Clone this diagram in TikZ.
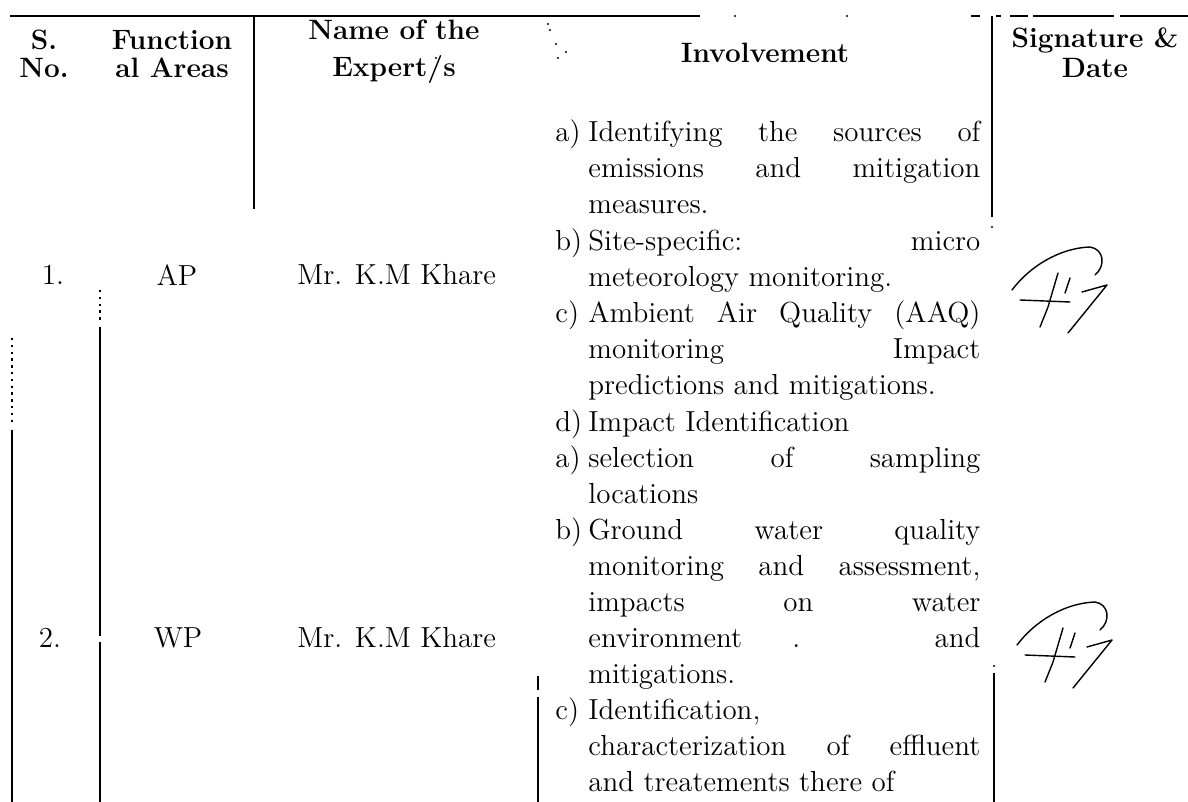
\documentclass[tikz,border=0pt]{standalone}
\usepackage{tikz}
\tikzstyle{rule}=[line width=1pt]
\tikzstyle{dotrule}=[line width=1pt, dash pattern=on 1.2pt off 2.2pt]
\tikzstyle{hd}=[font=\fontsize{14}{17}\selectfont\bfseries, inner sep=0pt]
\tikzstyle{cell}=[font=\fontsize{14.5}{17}\selectfont, inner sep=0pt]
\tikzstyle{txt}=[cell, anchor=base west]
\tikzstyle{sig}=[line width=0.7pt, line cap=round, line join=round]
\tikzstyle{speck}=[circle, fill, inner sep=0pt, minimum size=1.2pt]
\newcommand{\fullw}[1]{\makebox[196pt][s]{#1}}

\begin{document}
\begin{tikzpicture}[x=0.5pt, y=-0.5pt]
    \useasboundingbox (0,0) rectangle (1188,802);

    % table rules
    \draw[rule] (10,16) -- (700,16);
    \draw[rule] (971,16) -- (980,16) (996,16) -- (1001,16) (1010,16) -- (1028,16)
        (1033,16) -- (1114,16) (1120,16) -- (1188,16);
    \draw[rule] (254,16) -- (254,209);
    \draw[rule] (992,16) -- (992,217);
    \draw[dotrule] (12,338) -- (12,426);
    \draw[rule] (12,430) -- (12,802);
    \draw[dotrule] (100,290) -- (100,321);
    \draw[rule] (100,327) -- (100,636) (100,642) -- (100,802);
    \draw[rule] (538,676) -- (538,690) (538,697) -- (538,802);
    \draw[rule] (994,673) -- (994,802);

    % specks of the scan
    \node[speck] (s1) at (735,16) {};
    \node[speck] (s2) at (847,16) {};
    \node[speck] (s3) at (992,227) {};
    \node[speck] (s4) at (994,666) {};
    \node[speck] (s5) at (548,24) {};
    \node[speck] (s6) at (550,30) {};
    \node[speck] (s7) at (556,44) {};
    \node[speck] (s8) at (566,52) {};
    \node[speck] (s9) at (558,58) {};
    \node[speck] (s10) at (436,58) {};

    % header
    \node[hd] (sno) at (44,40) {S.};
    \node[hd] (sno2) at (44,68) {No.};
    \node[hd] (area) at (172,40) {Function};
    \node[hd] (area2) at (172,68) {al Areas};
    \node[hd] (expert) at (394,30) {Name of the};
    \node[hd] (expert2) at (394,70) {Expert/s};
    \node[hd] (involve) at (765,53) {Involvement};
    \node[hd] (sign) at (1095,40) {Signature \&};
    \node[hd] (sign2) at (1095,68) {Date};

    % row 1
    \node[cell] (no1) at (53,275) {1.};
    \node[cell] (area1) at (177,275) {AP};
    \node[cell, anchor=west] (name1) at (297,275) {Mr. K.M Khare};
    % row 2
    \node[cell] (no2) at (50,638) {2.};
    \node[cell] (area2r) at (178,638) {WP};
    \node[cell, anchor=west] (name2) at (297,638) {Mr. K.M Khare};

    % involvement, row 1
    \node[txt] (la1) at (555,142) {a)};
    \node[txt] (i1) at (588,142) {\fullw{Identifying the sources of}};
    \node[txt] (i2) at (588,178) {\fullw{emissions and mitigation}};
    \node[txt] (i3) at (588,214) {measures.};
    \node[txt] (lb1) at (555,250) {b)};
    \node[txt] (i4) at (588,250) {\fullw{Site-specific: micro}};
    \node[txt] (i5) at (588,286) {meteorology monitoring.};
    \node[txt] (lc1) at (555,322.5) {c)};
    \node[txt] (i6) at (588,322.5) {\fullw{Ambient Air Quality (AAQ)}};
    \node[txt] (i7) at (588,358.5) {\fullw{monitoring Impact}};
    \node[txt] (i8) at (588,394.5) {predictions and mitigations.};
    \node[txt] (ld1) at (555,431) {d)};
    \node[txt] (i9) at (588,431) {Impact Identification};
    % involvement, row 2
    \node[txt] (la2) at (555,467) {a)};
    \node[txt] (i10) at (588,467) {\fullw{selection of sampling}};
    \node[txt] (i11) at (588,503) {locations};
    \node[txt] (lb2) at (555,539) {b)};
    \node[txt] (i12) at (588,539) {\fullw{Ground water quality}};
    \node[txt] (i13) at (588,575) {\fullw{monitoring and assessment,}};
    \node[txt] (i14) at (588,611) {\fullw{impacts on water}};
    \node[txt] (i15) at (588,647.5) {\fullw{environment . and}};
    \node[txt] (i16) at (588,683.5) {mitigations.};
    \node[txt] (lc2) at (555,719.5) {c)};
    \node[txt] (i17) at (588,719.5) {Identification,};
    \node[txt] (i18) at (588,755.5) {\fullw{characterization of effluent}};
    \node[txt] (i19) at (588,791) {and treatements there of};

    % signatures
    \foreach \dx/\dy in {0/0, 5/355}
    {
        \begin{scope}[shift={(\dx,\dy)}]
            \draw[sig] (1012,290) .. controls (1030,266) and (1060,248) .. (1090,247)
                .. controls (1104,249) and (1106,266) .. (1095,275);
            \draw[sig] (1020,300) -- (1070,302);
            \draw[sig] (1058,273) -- (1048,307) -- (1040,327);
            \draw[sig] (1070,278) -- (1065,293);
            \draw[sig] (1082,292) -- (1107,285) -- (1068,333);
        \end{scope}
    }
\end{tikzpicture}
\end{document}
